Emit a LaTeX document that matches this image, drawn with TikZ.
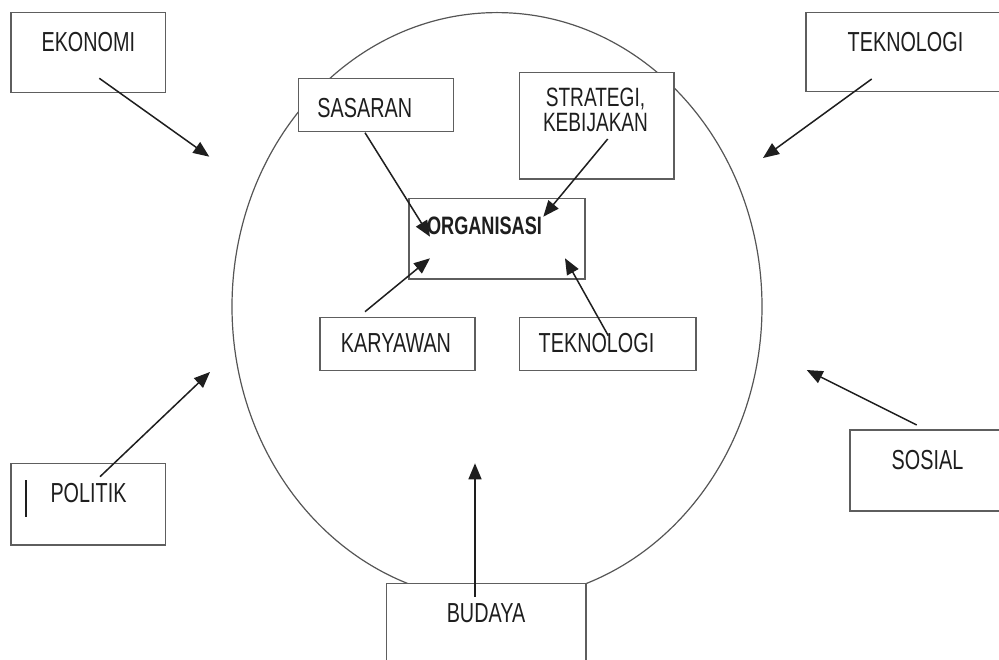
\documentclass[tikz,border=0pt]{standalone}
\usepackage{fontspec}
\setmainfont{Liberation Sans}[FakeStretch=0.72]
\usetikzlibrary{arrows.meta}

\definecolor{ink}{HTML}{1E1E1E}
\definecolor{boxgray}{HTML}{5E5E5E}
\definecolor{ringgray}{HTML}{555555}

\begin{document}
\begin{tikzpicture}[x=1pt,y=-1pt,
  frame/.style={draw=boxgray, line width=1.3pt, fill=white, inner sep=0pt},
  caption/.style={text=ink, font=\fontsize{27.5}{30}\selectfont, inner sep=0pt},
  smallcap/.style={text=ink, font=\fontsize{26.5}{25}\selectfont, inner sep=0pt, align=center},
  boldcap/.style={text=ink, font=\bfseries\fontsize{25.2}{28}\selectfont, inner sep=0pt},
  link/.style={draw=ink, line width=1.5pt, -{Triangle[length=16pt,width=13pt]}},
  ring/.style={draw=ringgray, line width=1.2pt},
]
\useasboundingbox (0,0) rectangle (999,660);

% the organisation's environment
\draw[ring] (497,306.6) ellipse [x radius=265, y radius=294];

% outer factors
\node[frame, minimum width=154.7pt, minimum height=79.6pt,
      label={[caption, shift={(0,-10.5)}]center:EKONOMI}] (eko) at (88.3,52.5) {};
\node[frame, minimum width=206pt, minimum height=79pt,
      label={[caption, shift={(-3.5,-10.2)}]center:TEKNOLOGI}] (tekout) at (909,52.2) {};
\node[frame, minimum width=154.7pt, minimum height=81.7pt,
      label={[caption, shift={(0.2,-11.2)}]center:POLITIK}] (pol) at (88.3,504.2) {};
\node[frame, minimum width=162pt, minimum height=81pt,
      label={[caption, shift={(-3.5,-10.5)}]center:SOSIAL}] (sos) at (931,470.5) {};
\node[frame, minimum width=199.3pt, minimum height=96.7pt,
      label={[caption, shift={(-0.3,-18.7)}]center:BUDAYA}] (bud) at (486.3,631.7) {};

% inner elements
\node[frame, minimum width=155pt, minimum height=53.4pt,
      label={[caption, shift={(-11,3)}]center:SASARAN}] (sas) at (375.8,105) {};
\node[frame, minimum width=154.7pt, minimum height=106.7pt,
      label={[smallcap, shift={(-1.2,-15.5)}]center:STRATEGI,\\KEBIJAKAN}] (str) at (596.7,125.7) {};
\node[frame, minimum width=176pt, minimum height=80.7pt,
      label={[boldcap, shift={(-12.5,-12.7)}]center:ORGANISASI}] (org) at (497,238.7) {};
\node[frame, minimum width=155pt, minimum height=53.4pt,
      label={[caption, shift={(-1.5,-1)}]center:KARYAWAN}] (kar) at (397.5,344) {};
\node[frame, minimum width=176.7pt, minimum height=53.4pt,
      label={[caption, shift={(-11.2,-1)}]center:TEKNOLOGI}] (tekin) at (607.7,344) {};

% cursor mark inside the POLITIK box
\draw[ink, line width=1.8pt] (25.7,480) -- (25.7,517);

% connector end points
\coordinate (eko-a) at (99.3,78.3);   \coordinate (eko-b) at (209.3,156.7);
\coordinate (tko-a) at (871.7,79);    \coordinate (tko-b) at (763,158);
\coordinate (pol-a) at (100,476.7);   \coordinate (pol-b) at (210,372);
\coordinate (sos-a) at (916.7,425);   \coordinate (sos-b) at (806.7,370);
\coordinate (bud-a) at (475,596.7);   \coordinate (bud-b) at (475,463.3);
\coordinate (sas-a) at (365,132.7);   \coordinate (sas-b) at (430,236.7);
\coordinate (str-a) at (607.7,139);   \coordinate (str-b) at (543.3,216.7);
\coordinate (kar-a) at (365,311.7);   \coordinate (kar-b) at (430,258.3);
\coordinate (tki-a) at (608.3,335.7); \coordinate (tki-b) at (565,258.3);

% influences
\draw[link] (eko-a) -- (eko-b);
\draw[link] (tko-a) -- (tko-b);
\draw[link] (pol-a) -- (pol-b);
\draw[link] (sos-a) -- (sos-b);
\draw[link] (bud-a) -- (bud-b);
\draw[link] (sas-a) -- (sas-b);
\draw[link] (str-a) -- (str-b);
\draw[link] (kar-a) -- (kar-b);
\draw[link] (tki-a) -- (tki-b);
\end{tikzpicture}
\end{document}
